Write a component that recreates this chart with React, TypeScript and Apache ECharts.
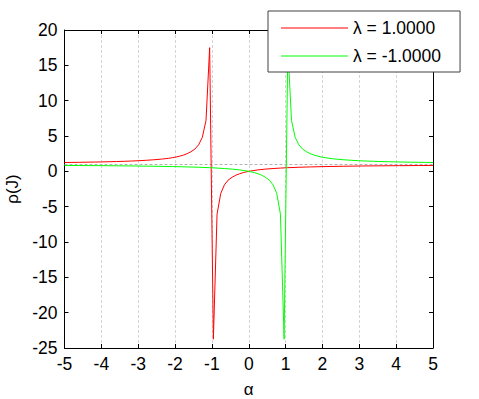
import React, { useEffect, useRef } from "react";
import * as echarts from "echarts";

// λ = 1.0000 series (α, ρ(J))
const redAlpha = [-5.0, -4.8, -4.6, -4.39, -4.19, -3.99, -3.79, -3.59, -3.38, -3.18, -2.98, -2.78, -2.58, -2.37, -2.27, -2.17, -2.07, -1.97, -1.87, -1.77, -1.67, -1.57, -1.46, -1.36, -1.26, -1.16, -1.0606, -0.9596, -0.86, -0.76, -0.66, -0.56, -0.45, -0.35, -0.25, -0.15, -0.05, 0.05, 0.25, 0.45, 0.66, 0.86, 1.06, 1.36, 1.67, 2.07, 2.58, 3.08, 3.59, 4.09, 4.6, 5.0];
const redRho = [1.25, 1.263, 1.278, 1.295, 1.313, 1.335, 1.359, 1.387, 1.419, 1.458, 1.505, 1.563, 1.635, 1.728, 1.786, 1.853, 1.934, 2.031, 2.151, 2.303, 2.5, 2.768, 3.152, 3.75, 4.808, 7.188, 17.5, -23.75, -6.07, -3.125, -1.912, -1.25, -0.833, -0.547, -0.338, -0.179, -0.053, 0.048, 0.202, 0.313, 0.396, 0.462, 0.515, 0.577, 0.625, 0.674, 0.72, 0.755, 0.782, 0.804, 0.821, 0.833];

// λ = -1.0000 series (α, ρ(J))
const greenAlpha = [-5.0, -4.6, -4.09, -3.59, -3.08, -2.58, -2.07, -1.67, -1.36, -1.06, -0.86, -0.66, -0.45, -0.25, -0.05, 0.05, 0.15, 0.25, 0.35, 0.45, 0.56, 0.66, 0.76, 0.86, 0.9596, 1.0606, 1.16, 1.26, 1.36, 1.46, 1.57, 1.67, 1.77, 1.87, 1.97, 2.07, 2.17, 2.27, 2.37, 2.58, 2.78, 2.98, 3.18, 3.38, 3.59, 3.79, 3.99, 4.19, 4.39, 4.6, 4.8, 5.0];
const greenRho = [0.833, 0.821, 0.804, 0.782, 0.755, 0.72, 0.674, 0.625, 0.577, 0.515, 0.462, 0.396, 0.313, 0.202, 0.048, -0.053, -0.179, -0.338, -0.547, -0.833, -1.25, -1.912, -3.125, -6.07, -23.75, 17.5, 7.188, 4.808, 3.75, 3.152, 2.768, 2.5, 2.303, 2.151, 2.031, 1.934, 1.853, 1.786, 1.728, 1.635, 1.563, 1.505, 1.458, 1.419, 1.387, 1.359, 1.335, 1.313, 1.295, 1.278, 1.263, 1.25];

const seriesNames = ["λ = 1.0000", "λ = -1.0000"];
const seriesColors = ["#ff0000", "#00ff00"];
const referenceLevel = 1;
const xRange = [-5, 5];
const yRange = [-25, 20];

const FONT = '"Liberation Sans", Arial, Helvetica, sans-serif';

export default function App() {
  const ref = useRef<HTMLDivElement>(null);
  useEffect(() => {
    if (!ref.current) return;
    const chart = echarts.init(ref.current, null, { renderer: "svg" });
    const pair = (xs: number[], ys: number[]) => xs.map((x, i) => [x, ys[i]]);
    const axisLine = { show: true, onZero: false, lineStyle: { color: "#000", width: 1 } };
    const tick = { show: true, inside: true, length: 4, lineStyle: { color: "#000" } };
    chart.setOption({
      animation: false,
      backgroundColor: "#fff",
      textStyle: { fontFamily: FONT },
      grid: {
        left: 64.5,
        right: 46,
        top: 30,
        bottom: 51,
        containLabel: false,
        outerBoundsMode: "none",
      },
      legend: {
        orient: "vertical",
        left: 268,
        top: 11,
        data: seriesNames.map((name, i) => ({
          name,
          icon: "rect",
          itemStyle: { color: seriesColors[i], borderWidth: 0, opacity: 1 },
        })),
        itemWidth: 67,
        itemHeight: 1.2,
        itemGap: 10,
        padding: [8, 19, 7, 13],
        borderColor: "#404040",
        borderWidth: 1,
        backgroundColor: "#fff",
        textStyle: { fontFamily: FONT, fontSize: 17.5, color: "#000" },
        z: 10,
      },
      xAxis: [
        {
          type: "value",
          min: xRange[0],
          max: xRange[1],
          interval: 1,
          position: "bottom",
          axisLine,
          axisTick: tick,
          axisLabel: { color: "#000", fontSize: 17.5, fontFamily: FONT, margin: 7 },
          splitLine: { show: true, lineStyle: { color: "#d4d4d4", type: [3, 2], width: 1 } },
          name: "α",
          nameLocation: "middle",
          nameGap: 33,
          nameTextStyle: { color: "#000", fontSize: 17, fontFamily: FONT },
        },
        {
          type: "value",
          min: xRange[0],
          max: xRange[1],
          interval: 1,
          position: "top",
          axisLine,
          axisTick: tick,
          axisLabel: { show: false },
          splitLine: { show: false },
        },
      ],
      yAxis: [
        {
          type: "value",
          min: yRange[0],
          max: yRange[1],
          interval: 5,
          position: "left",
          axisLine,
          axisTick: tick,
          axisLabel: { color: "#000", fontSize: 17.5, fontFamily: FONT, margin: 7 },
          splitLine: { show: false },
          name: "ρ(J)",
          nameLocation: "middle",
          nameGap: 41,
          nameRotate: 90,
          nameTextStyle: { color: "#000", fontSize: 17, fontFamily: FONT },
        },
        {
          type: "value",
          min: yRange[0],
          max: yRange[1],
          interval: 5,
          position: "right",
          axisLine,
          axisTick: tick,
          axisLabel: { show: false },
          splitLine: { show: false },
        },
      ],
      series: [
        {
          name: seriesNames[0],
          type: "line",
          data: pair(redAlpha, redRho),
          symbol: "none",
          lineStyle: { color: seriesColors[0], width: 1 },
          itemStyle: { color: seriesColors[0] },
          z: 3,
          markLine: {
            silent: true,
            symbol: "none",
            label: { show: false },
            lineStyle: { color: "#b4b4b4", type: [3, 2], width: 1 },
            data: [{ yAxis: referenceLevel }],
            z: 2,
          },
        },
        {
          name: seriesNames[1],
          type: "line",
          data: pair(greenAlpha, greenRho),
          symbol: "none",
          lineStyle: { color: seriesColors[1], width: 1 },
          itemStyle: { color: seriesColors[1] },
          z: 3,
        },
      ],
    });
    return () => chart.dispose();
  }, []);
  return (
    <div
      ref={ref}
      style={{ position: "fixed", left: 0, top: 0, width: 479, height: 399 }}
    />
  );
}
